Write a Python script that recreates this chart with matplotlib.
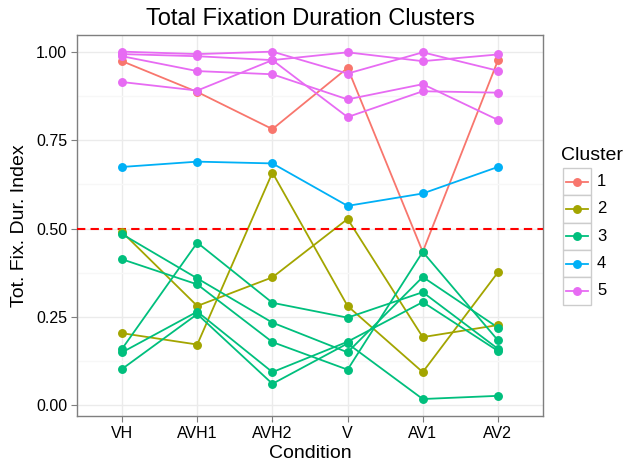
import matplotlib.pyplot as plt
from matplotlib.lines import Line2D
from matplotlib.patches import Rectangle

plt.rcParams['font.family'] = ['Liberation Sans', 'DejaVu Sans']

conditions = ['VH', 'AVH1', 'AVH2', 'V', 'AV1', 'AV2']
cluster_names = ['1', '2', '3', '4', '5']
cluster_colors = ['#F8766D', '#A3A500', '#00BF7D', '#00B0F6', '#E76BF3']

# one row per participant, grouped by cluster
cluster1 = [
    [0.973, 0.886, 0.781, 0.954, 0.434, 0.975],
]
cluster2 = [
    [0.490, 0.281, 0.362, 0.527, 0.193, 0.227],
    [0.204, 0.172, 0.658, 0.281, 0.094, 0.376],
]
cluster3 = [
    [0.484, 0.359, 0.234, 0.150, 0.363, 0.220],
    [0.413, 0.342, 0.179, 0.101, 0.434, 0.184],
    [0.160, 0.460, 0.290, 0.248, 0.320, 0.160],
    [0.150, 0.265, 0.094, 0.180, 0.292, 0.154],
    [0.103, 0.258, 0.061, 0.175, 0.018, 0.027],
]
cluster4 = [
    [0.674, 0.689, 0.684, 0.564, 0.599, 0.674],
]
cluster5 = [
    [1.000, 0.993, 1.000, 0.938, 0.998, 0.946],
    [0.993, 0.987, 0.976, 0.998, 0.973, 0.992],
    [0.914, 0.890, 0.976, 0.815, 0.888, 0.884],
    [0.987, 0.945, 0.936, 0.865, 0.908, 0.807],
]
clusters = [cluster1, cluster2, cluster3, cluster4, cluster5]

threshold = 0.5

fig = plt.figure(figsize=(6.37, 4.63), dpi=100)
ax = fig.add_axes([77/637, 1-416/463, 466/637, 381/463])

x = list(range(len(conditions)))

# lines first, then points on top (like geom_line + geom_point)
for rows, col in zip(clusters, cluster_colors):
    for r in rows:
        ax.plot(x, r, color=col, lw=1.3, zorder=3, solid_capstyle='butt')

ax.axhline(threshold, color='#FF0000', lw=1.5, ls=(0, (4, 2.5)), zorder=4)

for rows, col in zip(clusters, cluster_colors):
    for r in rows:
        ax.plot(x, r, ls='none', marker='o', ms=5.4, color=col, mec=col, zorder=5)

ax.set_xlim(-0.6, len(conditions) - 0.4)
ax.set_ylim(-0.03, 1.047)
ax.set_xticks(x)
ax.set_xticklabels(conditions)
ax.set_yticks([0, 0.25, 0.5, 0.75, 1.0])
ax.set_yticklabels(['0.00', '0.25', '0.50', '0.75', '1.00'])
ax.set_yticks([0.125, 0.375, 0.625, 0.875], minor=True)

ax.grid(True, which='major', color='#EBEBEB', lw=1.0, zorder=0)
ax.grid(True, which='minor', axis='y', color='#F7F7F7', lw=1.0, zorder=0)
ax.set_axisbelow(True)
for s in ax.spines.values():
    s.set_color('#7F7F7F')
    s.set_linewidth(1.0)
ax.tick_params(which='major', length=4, width=0.8, color='#7F7F7F', labelsize=11.5, labelcolor='black', pad=3)
ax.tick_params(which='minor', length=0)

ax.set_title('Total Fixation Duration Clusters', fontsize=17, pad=7)
ax.set_xlabel('Condition', fontsize=14, labelpad=3)
ax.set_ylabel('Tot. Fix. Dur. Index', fontsize=14, labelpad=6)

# legend drawn by hand, ggplot style
lax = fig.add_axes([0, 0, 1, 1], facecolor='none')
lax.set_xlim(0, 637)
lax.set_ylim(463, 0)
lax.axis('off')
lax.text(561, 155, 'Cluster', fontsize=14, va='center', ha='left')
key_top, key_h, key_w, key_left = 168, 27.3, 28, 563
for i, (name, col) in enumerate(zip(cluster_names, cluster_colors)):
    y0 = key_top + i * key_h
    lax.add_patch(Rectangle((key_left, y0), key_w, key_h, facecolor='white',
                            edgecolor='#CCCCCC', lw=1.0))
    yc = y0 + key_h / 2
    lax.add_line(Line2D([key_left + 3, key_left + key_w - 3], [yc, yc], color=col, lw=1.3))
    lax.plot(key_left + key_w / 2, yc, 'o', color=col, ms=5.4)
    lax.text(key_left + key_w + 6, yc, name, fontsize=12, va='center', ha='left')

fig.savefig('out.png', dpi=100)
